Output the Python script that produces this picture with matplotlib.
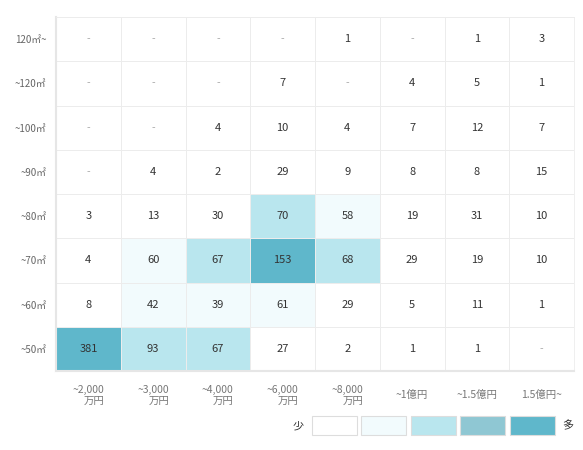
import numpy as np
from matplotlib import pyplot as plt
from matplotlib.colors import ListedColormap, BoundaryNorm
from matplotlib.patches import Rectangle

plt.rcParams['font.family'] = ['Noto Sans CJK JP', 'DejaVu Sans']

row_labels = ["120㎡~", "~120㎡", "~100㎡", "~90㎡", "~80㎡", "~70㎡", "~60㎡", "~50㎡"]
col_labels = ["~2,000\n万円", "~3,000\n万円", "~4,000\n万円", "~6,000\n万円",
              "~8,000\n万円", "~1億円", "~1.5億円", "1.5億円~"]
nan = np.nan
counts = np.array([
    [nan, nan, nan, nan, 1, nan, 1, 3],
    [nan, nan, nan, 7, nan, 4, 5, 1],
    [nan, nan, 4, 10, 4, 7, 12, 7],
    [nan, 4, 2, 29, 9, 8, 8, 15],
    [3, 13, 30, 70, 58, 19, 31, 10],
    [4, 60, 67, 153, 68, 29, 19, 10],
    [8, 42, 39, 61, 29, 5, 11, 1],
    [381, 93, 67, 27, 2, 1, 1, nan],
])
level_colors = ["#ffffff", "#f2fbfd", "#b9e6ee", "#8fc7d3", "#5fb7cb"]
level_bounds = [0, 33, 65, 110, 150, 10000]

W, H = 583, 450
fig = plt.figure(figsize=(W / 100, H / 100), dpi=100)
ax = fig.add_axes([56 / W, (H - 371) / H, 518 / W, 354 / H])

cmap = ListedColormap(level_colors)
norm = BoundaryNorm(level_bounds, cmap.N)
shown = np.nan_to_num(counts, nan=0)
nr, nc = counts.shape
ax.pcolormesh(np.arange(nc + 1), np.arange(nr + 1), shown, cmap=cmap, norm=norm,
              edgecolors="#ececec", linewidth=0.5)
ax.set_xlim(0, nc)
ax.set_ylim(nr, 0)

for i in range(nr):
    for j in range(nc):
        v = counts[i, j]
        if np.isnan(v):
            ax.text(j + 0.5, i + 0.5, "-", ha="center", va="center", fontsize=7.5, color="#aaaaaa")
        else:
            ax.text(j + 0.5, i + 0.5, str(int(v)), ha="center", va="center", fontsize=8, color="#333333")

for s in ax.spines.values():
    s.set_color("#ececec")
    s.set_linewidth(0.6)
ax.spines["left"].set_linewidth(1.5)
ax.spines["bottom"].set_linewidth(1.5)
ax.spines["left"].set_color("#e6e6e6")
ax.spines["bottom"].set_color("#e6e6e6")

ax.set_yticks(np.arange(nr) + 0.5)
ax.set_yticklabels(row_labels, fontsize=7, color="#666666")
ax.set_xticks([])
ax.tick_params(length=0)
ax.tick_params(axis="y", pad=7)

# column labels, vertically centred below the grid
for j, lab in enumerate(col_labels):
    ax.annotate(lab, xy=(j + 0.5, 0), xycoords=("data", "axes fraction"),
                xytext=(0, -17.5), textcoords="offset points",
                ha="center", va="center", multialignment="right",
                fontsize=7.5, color="#777777", linespacing=1.15)

# legend
box_x = [312, 361, 411, 460, 510]
for x0, c in zip(box_x, level_colors):
    fig.add_artist(Rectangle((x0 / W, (H - 435) / H), 45 / W, 19 / H, transform=fig.transFigure,
                             facecolor=c, edgecolor="#dddddd", linewidth=0.8))
fig.text(298 / W, (H - 426) / H, "少", ha="center", va="center", fontsize=8, color="#333333")
fig.text(568 / W, (H - 426) / H, "多", ha="center", va="center", fontsize=8, color="#333333")

fig.savefig("out.png", dpi=100)
